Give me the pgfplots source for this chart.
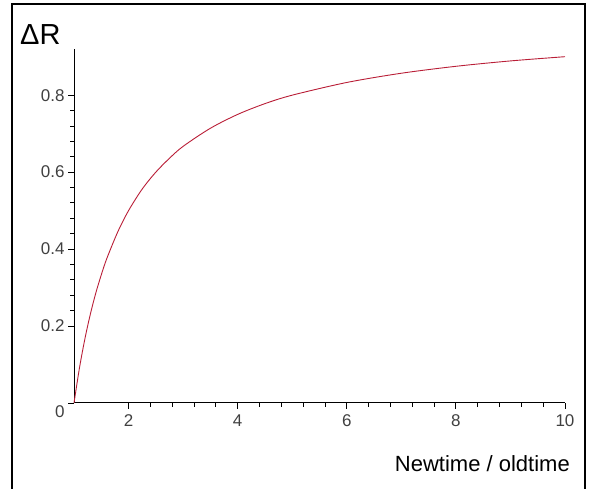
\documentclass[border=0pt]{standalone}
\usepackage{fontspec}
\setmainfont{Liberation Sans}
\usepackage{pgfplots}
\pgfplotsset{compat=1.18}

\definecolor{curvered}{RGB}{185,30,55}

\begin{document}
\begin{tikzpicture}[x=1pt,y=1pt]
\useasboundingbox (0,0) rectangle (591,489);
% frame round the plot (bottom edge cut off)
\draw[line width=2pt] (12,-2) -- (12,485) -- (585,485) -- (585,-2);

\begin{axis}[
  at={(74pt,86pt)}, anchor=south west,
  scale only axis,
  width=491pt, height=354pt,
  xmin=1, xmax=10, ymin=0, ymax=0.92,
  axis lines=left,
  axis line style={-, line width=1pt},
  tick align=outside,
  xtick={2,4,6,8,10},
  ytick={0.2,0.4,0.6,0.8},
  extra y ticks={0},
  extra y tick style={yticklabel style={yshift=-9pt}},
  minor tick num=4,
  major tick length=6pt,
  minor tick length=4pt,
  every tick/.style={black, line width=0.9pt},
  tick label style={font=\fontsize{17}{17}\selectfont, text=black!75},
  xticklabel style={yshift=-2pt},
  /pgf/number format/assume math mode=true,
  yticklabel style={/pgf/number format/fixed, /pgf/number format/precision=1},
  clip=false,
]
\addplot[curvered, line width=0.9pt, smooth] coordinates {
(1,0) (1.1,0.091) (1.2,0.167) (1.3,0.231) (1.4,0.286) (1.5,0.333)
(1.6,0.375) (1.8,0.444) (2,0.5) (2.25,0.556) (2.5,0.6) (2.75,0.636)
(3,0.667) (3.5,0.714) (4,0.75) (4.5,0.778) (5,0.8) (6,0.833)
(7,0.857) (8,0.875) (9,0.889) (10,0.9)
};
\end{axis}

\node[anchor=base west, inner sep=0, font=\fontsize{29}{29}\selectfont] at (20,444) {ΔR};
\node[anchor=base east, inner sep=0, font=\fontsize{22}{22}\selectfont] at (570,17) {Newtime / oldtime};
\end{tikzpicture}
\end{document}
